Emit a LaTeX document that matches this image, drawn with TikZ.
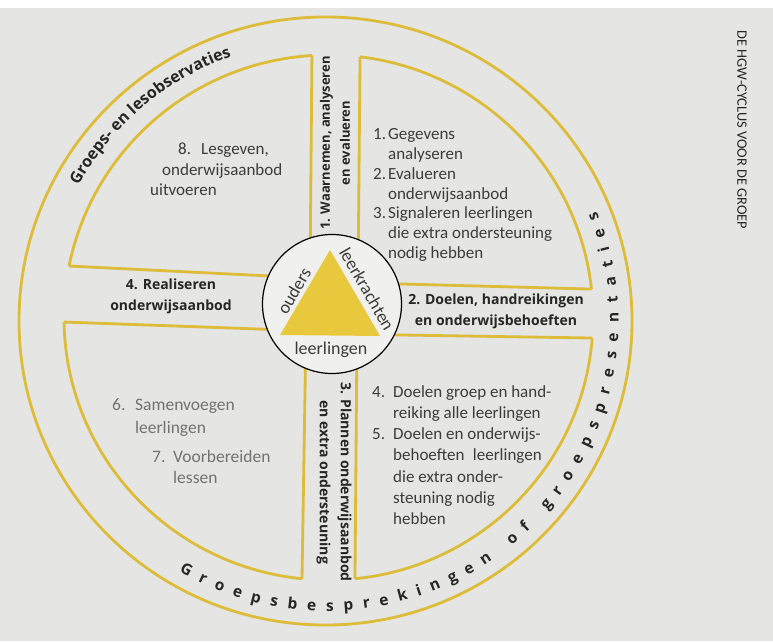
\documentclass[tikz,border=0pt]{standalone}
\usepackage{fontspec}
\setmainfont{Carlito}
\newfontfamily\osans{Open Sans}
\usetikzlibrary{decorations.text}
\definecolor{gel}{HTML}{DDBC3A}
\definecolor{gelfill}{HTML}{E8C83C}
\definecolor{page}{HTML}{E5E5E3}
\definecolor{hubfill}{HTML}{F0F0EE}
\definecolor{ink}{HTML}{262626}
\definecolor{bodyink}{HTML}{3C3C3C}
\definecolor{greyink}{HTML}{727272}
\newcommand\ringfont{\osans\bfseries\fontsize{15.5}{18}\selectfont\color{ink}}
\newcommand\topringfont{\osans\bfseries\fontsize{16}{19}\selectfont\color{ink}}
\begin{document}
\begin{tikzpicture}[x=1pt,y=1pt,
  ring/.style={draw=gel, line width=2.8pt},
  bandline/.style={draw=gel, line width=2.8pt, line join=miter},
  lbl/.style={font=\osans\bfseries\fontsize{14}{21}\selectfont, text=ink, align=center, inner sep=0pt},
  bodytxt/.style={font=\fontsize{17}{19.7}\selectfont, text=bodyink, inner sep=0pt, anchor=base west},
  greytxt/.style={font=\fontsize{17.5}{21}\selectfont, text=greyink, inner sep=0pt, anchor=base west},
  hubtxt/.style={font=\fontsize{18}{20}\selectfont, text=bodyink, inner sep=0pt},
]
\useasboundingbox (0,0) rectangle (773,641);
\fill[page] (0,0) rectangle (773,641);
\fill[white] (0,633) rectangle (773,641);
\begin{scope}[yshift=641pt, y=-1pt]
  \coordinate (oc) at (325.5,321);
  \coordinate (ic) at (328.5,317.5);
  \coordinate (rc) at (326.5,321);
  \draw[ring] (oc) ellipse [x radius=306.5pt, y radius=304pt];
  \draw[ring] (ic) ellipse [x radius=264.5pt, y radius=262.5pt];
  \begin{scope}
    \clip (ic) ellipse [x radius=268pt, y radius=266pt];
    \fill[page] (312.5,-10) -- (310,278) -- (-10,262.1) -- (-10,319.4) -- (306,330.7) -- (300.7,660) -- (354.3,660) -- (357,334.3) -- (800,341.3) -- (800,294.7) -- (358,282.8) -- (360.65,-10) -- cycle;
  \end{scope}
  \begin{scope}
    \clip (ic) ellipse [x radius=264.5pt, y radius=262.5pt];
    \draw[bandline] (312.5,-10) -- (310,278) -- (-10,262.1);
    \draw[bandline] (-10,319.4) -- (306,330.7) -- (300.7,660);
    \draw[bandline] (354.3,660) -- (357,334.3) -- (800,341.3);
    \draw[bandline] (800,294.7) -- (358,282.8) -- (360.65,-10);
  \end{scope}
  % hub
  \node[circle, draw=black, line width=1.2pt, fill=hubfill, minimum size=139pt, inner sep=0pt] (hub) at (332,304) {};
  \coordinate (ta) at (330,250);
  \coordinate (tb) at (280,335);
  \coordinate (tc) at (380,336);
  \fill[gelfill] (ta) -- (tb) -- (tc) -- cycle;
  \node[hubtxt, rotate=60] (ouders) at (294,291) {ouders};
  \node[hubtxt, rotate=-60] (leerkrachten) at (367,289) {leerkrachten};
  \node[hubtxt] (leerlingen) at (331,350) {leerlingen};
  % band labels
  \node[lbl, rotate=90, font=\osans\bfseries\fontsize{13}{20}\selectfont] (stage1) at (335,143) {1. Waarnemen, analyseren\\en evalueren};
  \node[lbl] (stage2) at (496,311) {2. Doelen, handreikingen\\en onderwijsbehoeften};
  \node[lbl, rotate=-90] (stage3) at (334,482) {3. Plannen onderwijsaanbod\\en extra ondersteuning};
  \node[lbl] (stage4) at (171,296) {4. Realiseren\\onderwijsaanbod};
  % quadrant texts
  \node[bodytxt] (q1) at (373,140) {\begin{tabular}[t]{@{}r@{\hspace{2pt}}l@{}}1.&Gegevens\\&analyseren\\2.&Evalueren\\&onderwijsaanbod\\3.&Signaleren leerlingen\\&die extra ondersteuning\\&nodig hebben\end{tabular}};
  \node[bodytxt, font=\fontsize{17}{21.3}\selectfont] (q2) at (372,397) {\begin{tabular}[t]{@{}p{21pt}@{}l@{}}4.&Doelen groep en hand-\\&reiking alle leerlingen\\5.&Doelen en onderwijs-\\&behoeften\enspace leerlingen\\&die extra onder-\\&steuning nodig\\&hebben\end{tabular}};
  \node[bodytxt] (q8n) at (178,155) {8.};
  \node[bodytxt] (q8a) at (201,155) {Lesgeven,};
  \node[bodytxt] (q8b) at (162,176) {onderwijsaanbod};
  \node[bodytxt] (q8c) at (150,196) {uitvoeren};
  \node[greytxt] (q6n) at (112,410) {6.};
  \node[greytxt] (q6a) at (135,410) {Samenvoegen};
  \node[greytxt] (q6b) at (135,433) {leerlingen};
  \node[greytxt] (q7n) at (152,462) {7.};
  \node[greytxt] (q7a) at (173,462) {Voorbereiden};
  \node[greytxt] (q7b) at (173,483) {lessen};
  \node[font=\fontsize{14.4}{16}\selectfont, text=ink, rotate=-90, inner sep=0pt] (title) at (742,130) {DE HGW-CYCLUS VOOR DE GROEP};
\end{scope}
% ring texts
\path[decorate, decoration={text along path, text={|\topringfont|Groeps- en lesobservaties}, text align=center}]
  ([shift={(180.5:283pt and 281pt)}]rc) arc[start angle=180.5, end angle=80.5, x radius=283pt, y radius=281pt];
\path[decorate, decoration={text along path, text={|\ringfont|Groepsbesprekingen of groepspresentaties}, text align={fit to path}}]
  ([shift={(239.7:292pt and 290pt)}]rc) arc[start angle=239.7, end angle=382.3, x radius=292pt, y radius=290pt];
\end{tikzpicture}
\end{document}
